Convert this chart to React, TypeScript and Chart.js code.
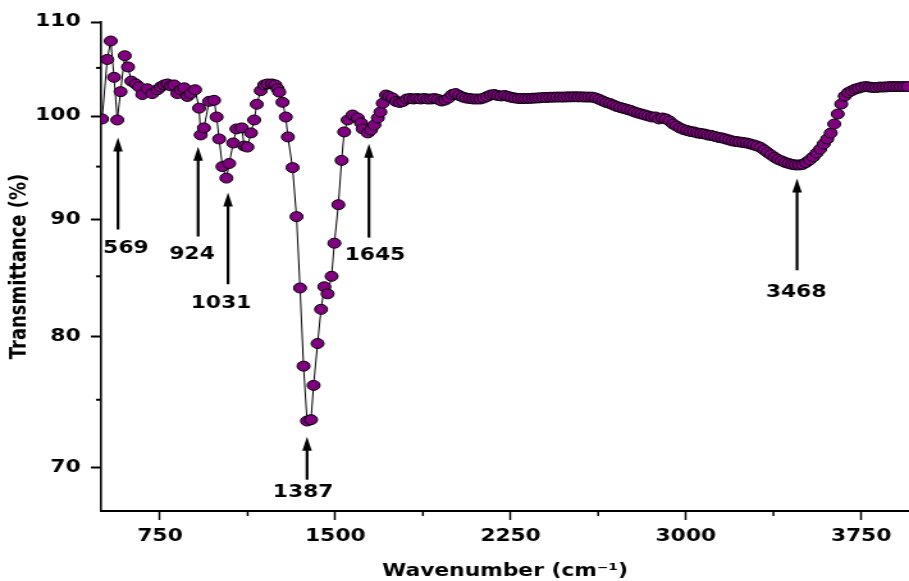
import { useEffect, useRef } from 'react';
import { Chart, registerables } from 'chart.js';

Chart.register(...registerables);

// The reference picture is horizontally stretched; the chart is drawn narrower and stretched by CSS.
const STRETCH = 1.28;
const PAGE_W = 909;
const PAGE_H = 581;
const CANVAS_W = Math.round(PAGE_W / STRETCH);

const wavenumbers = [
  502, 524, 539, 553, 567, 581, 599, 613, 627, 646, 660, 674, 696, 717, 739, 753, 767, 782, 796, 810,
  824, 838, 853, 867, 881, 900, 917, 924, 938, 960, 981, 992, 1003, 1017, 1034, 1046, 1063, 1077, 1100, 1110,
  1124, 1139, 1153, 1164, 1181, 1196, 1210, 1229, 1243, 1253, 1260, 1274, 1288, 1297, 1317, 1334, 1349, 1364, 1379, 1396,
  1407, 1424, 1439, 1453, 1467, 1484, 1496, 1513, 1527, 1538, 1553, 1574, 1596, 1610, 1617, 1639, 1653, 1667, 1682, 1693,
  1703, 1717, 1731,
  1745, 1760, 1775, 1790, 1805, 1820, 1835, 1850, 1865, 1880, 1895, 1910, 1925, 1940, 1955, 1970, 1985, 2000, 2015, 2030,
  2045, 2060, 2075, 2090, 2105, 2120, 2135, 2150, 2165, 2180, 2195, 2210, 2225, 2240, 2255, 2270, 2285, 2300, 2315, 2330,
  2345, 2360, 2375, 2390, 2405, 2420, 2435, 2450, 2465, 2480, 2495, 2510, 2525, 2540, 2555, 2570, 2585, 2600, 2615, 2630,
  2645, 2660, 2675, 2690, 2705, 2720, 2735, 2750, 2765, 2780, 2795, 2810, 2825, 2840, 2855, 2870, 2885, 2900, 2915, 2930,
  2945, 2960, 2975, 2990, 3005, 3020, 3035, 3050, 3065, 3080, 3095, 3110, 3125, 3140, 3155, 3170, 3185, 3200, 3215, 3230,
  3245, 3260, 3275, 3290, 3305, 3320, 3335, 3350, 3365, 3380, 3395, 3410, 3425, 3440, 3455, 3470, 3485, 3500, 3515, 3530,
  3545, 3560, 3575, 3590, 3605, 3620, 3635, 3650, 3665, 3680, 3695, 3710, 3725, 3740, 3755, 3770, 3785, 3800, 3815, 3830,
  3845, 3860, 3875, 3890, 3905, 3920, 3935, 3950,
];

const transmittance = [
  99.7, 105.9, 107.9, 104.0, 99.6, 102.5, 106.3, 105.1, 103.6, 103.3, 103.0, 102.2, 102.8, 102.3, 102.7, 103.0, 103.2, 103.3, 103.1, 103.2,
  102.3, 102.7, 102.9, 102.0, 102.3, 102.7, 100.8, 98.1, 98.8, 101.5, 101.6, 99.9, 97.7, 95.0, 93.9, 95.3, 97.3, 98.7, 98.8, 97.0,
  96.9, 98.3, 99.6, 101.2, 102.6, 103.2, 103.3, 103.3, 103.2, 102.8, 102.45, 101.4, 99.9, 97.9, 94.9, 90.3, 84.0, 77.6, 73.4, 73.5,
  76.1, 79.4, 82.2, 84.1, 83.5, 85.0, 87.9, 91.4, 95.6, 98.4, 99.6, 100.1, 99.8, 99.3, 98.7, 98.3, 98.6, 99.1, 99.8, 100.4,
  101.3, 102.15, 102.0,
  101.84, 101.48, 101.38, 101.48, 101.74, 101.79, 101.74, 101.79, 101.74, 101.79, 101.74, 101.74, 101.79, 101.69, 101.53, 101.63, 101.84, 102.2, 102.3, 102.1,
  101.94, 101.84, 101.79, 101.74, 101.74, 101.74, 101.84, 102.0, 102.15, 102.2, 102.1, 102.05, 102.1, 102.0, 101.9, 101.84, 101.79, 101.79, 101.79, 101.8,
  101.82, 101.84, 101.86, 101.9, 101.9, 101.92, 101.93, 101.94, 101.94, 101.94, 101.96, 101.96, 101.97, 101.96, 101.96, 101.94, 101.94, 101.93, 101.84, 101.69,
  101.53, 101.38, 101.27, 101.12, 100.97, 100.86, 100.76, 100.66, 100.56, 100.41, 100.3, 100.2, 100.1, 100.0, 99.9, 99.9, 99.7, 99.8, 99.7, 99.5,
  99.19, 98.99, 98.79, 98.64, 98.54, 98.44, 98.39, 98.29, 98.24, 98.19, 98.09, 98.04, 97.95, 97.85, 97.8, 97.7, 97.6, 97.5, 97.45, 97.4,
  97.35, 97.3, 97.21, 97.11, 97.01, 96.86, 96.62, 96.37, 96.13, 95.89, 95.69, 95.55, 95.4, 95.3, 95.21, 95.16, 95.16, 95.21, 95.4, 95.64,
  95.94, 96.32, 96.71, 97.21, 97.7, 98.29, 99.19, 100.2, 101.22, 102.05, 102.4, 102.6, 102.77, 102.87, 102.98, 103.03, 102.98, 102.93, 102.93, 102.98,
  102.98, 103.0, 103.03, 103.03, 103.03, 103.03, 103.03, 103.03,
];

const xTicks = [750, 1500, 2250, 3000, 3750];
const xMinorTicks = [1125, 1875, 2625, 3375];
const yTicks = [70, 80, 90, 100, 110];
const yMinorTicks = [75, 85, 95, 105];

// Peak annotations (arrows + labels), in data units
const peakLabels = ['569', '924', '1031', '1387', '1645', '3468'];
const peakArrowAt = [570, 913, 1041, 1379, 1644, 3476];
const peakArrowTip = [97.84, 96.93, 92.53, 72.24, 97.23, 93.85];
const peakArrowTail = [89.13, 88.5, 84.32, 69.16, 88.4, 85.52];
const peakLabelAt = [604, 887, 1011, 1362, 1670, 3472];
const peakLabelLevel = [87.43, 86.9, 82.71, 68.25, 86.81, 83.64];

const FONT_FAMILY = '"DejaVu Sans", Verdana, sans-serif';

const annotationPlugin = {
  id: 'ftirAnnotations',
  afterDraw(chart: any) {
    const { ctx, scales } = chart;
    const x = scales.x;
    const y = scales.y;
    ctx.save();
    ctx.strokeStyle = '#000';
    ctx.fillStyle = '#000';
    // minor ticks
    ctx.lineWidth = 1.5;
    xMinorTicks.forEach((v) => {
      const px = x.getPixelForValue(v);
      ctx.beginPath();
      ctx.moveTo(px, x.top);
      ctx.lineTo(px, x.top + 5);
      ctx.stroke();
    });
    ctx.lineWidth = 2;
    yMinorTicks.forEach((v) => {
      const py = y.getPixelForValue(v);
      ctx.beginPath();
      ctx.moveTo(y.right, py);
      ctx.lineTo(y.right - 4, py);
      ctx.stroke();
    });
    // arrows and labels
    ctx.font = `bold 17px ${FONT_FAMILY}`;
    ctx.textAlign = 'center';
    ctx.textBaseline = 'middle';
    peakLabels.forEach((label, i) => {
      const px = x.getPixelForValue(peakArrowAt[i]);
      const tip = y.getPixelForValue(peakArrowTip[i]);
      const tail = y.getPixelForValue(peakArrowTail[i]);
      const headH = 14;
      const headHalfW = 3.7;
      ctx.lineWidth = 2.2;
      ctx.beginPath();
      ctx.moveTo(px, tail);
      ctx.lineTo(px, tip + headH - 2);
      ctx.stroke();
      ctx.beginPath();
      ctx.moveTo(px, tip);
      ctx.lineTo(px - headHalfW, tip + headH);
      ctx.lineTo(px + headHalfW, tip + headH);
      ctx.closePath();
      ctx.fill();
      ctx.fillText(label, x.getPixelForValue(peakLabelAt[i]), y.getPixelForValue(peakLabelLevel[i]));
    });
    ctx.restore();
  },
};

export default function App() {
  const canvasRef = useRef<HTMLCanvasElement | null>(null);

  useEffect(() => {
    const canvas = canvasRef.current;
    if (!canvas) return;
    const tickFont = { family: FONT_FAMILY, weight: 'bold' as const, size: 17 };
    const chart = new Chart(canvas, {
      type: 'line',
      data: {
        datasets: [
          {
            data: wavenumbers.map((w, i) => ({ x: w, y: transmittance[i] })),
            borderColor: '#000',
            borderWidth: 1,
            pointStyle: 'circle',
            pointRadius: 5,
            pointBackgroundColor: '#800080',
            pointBorderColor: '#000',
            pointBorderWidth: 1,
            tension: 0,
            fill: false,
          },
        ],
      },
      options: {
        responsive: false,
        animation: false,
        events: [],
        layout: { autoPadding: false, padding: { top: 22, right: 0, left: 0, bottom: 0 } },
        plugins: { legend: { display: false }, tooltip: { enabled: false } },
        scales: {
          x: {
            type: 'linear',
            position: 'bottom',
            min: 498,
            max: 3955,
            afterBuildTicks: (s: any) => {
              s.ticks = xTicks.map((v) => ({ value: v }));
            },
            afterFit: (s: any) => {
              s.height = 70;
              s.paddingLeft = 0;
              s.paddingRight = 0;
            },
            grid: { drawOnChartArea: false, drawTicks: true, tickLength: 9, tickWidth: 1.5, tickColor: '#000' },
            border: { display: true, color: '#000', width: 2 },
            ticks: {
              color: '#000',
              font: tickFont,
              padding: 6,
              maxRotation: 0,
              autoSkip: false,
              callback: (v: any) => String(v),
            },
            title: {
              display: true,
              text: 'Wavenumber (cm⁻¹)',
              color: '#000',
              font: { family: FONT_FAMILY, weight: 'bold' as const, size: 17, lineHeight: 1 },
              padding: { top: 0, bottom: 1 },
            },
          },
          y: {
            type: 'logarithmic',
            position: 'left',
            min: 67,
            max: 110,
            afterBuildTicks: (s: any) => {
              s.ticks = yTicks.map((v) => ({ value: v }));
            },
            afterFit: (s: any) => {
              s.width = 79;
              s.paddingTop = 0;
              s.paddingBottom = 0;
            },
            grid: { drawOnChartArea: false, drawTicks: true, tickLength: 8, tickWidth: 2, tickColor: '#000' },
            border: { display: true, color: '#000', width: 1.6 },
            ticks: {
              color: '#000',
              font: tickFont,
              padding: 8,
              autoSkip: false,
              callback: (v: any) => String(v),
            },
            title: {
              display: true,
              text: 'Transmittance (%)',
              color: '#000',
              font: { family: FONT_FAMILY, weight: 'bold' as const, size: 18, lineHeight: 1 },
              padding: { top: 6, bottom: 0 },
            },
          },
        },
      },
      plugins: [annotationPlugin],
    });
    return () => chart.destroy();
  }, []);

  return (
    <div style={{ position: 'absolute', left: 0, top: 0, width: PAGE_W, height: PAGE_H, background: '#fff' }}>
      <canvas
        ref={canvasRef}
        width={CANVAS_W}
        height={PAGE_H}
        style={{ display: 'block', width: `${PAGE_W}px`, height: `${PAGE_H}px` }}
      />
    </div>
  );
}
